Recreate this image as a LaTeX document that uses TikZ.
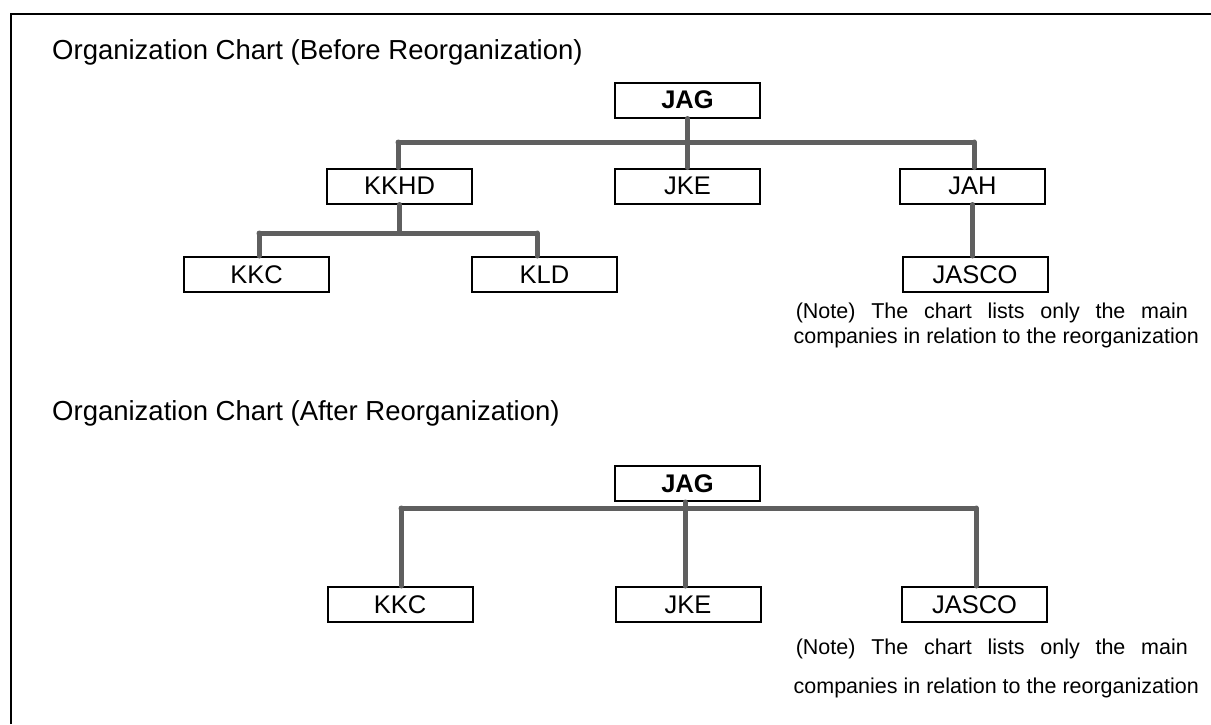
\documentclass[tikz,border=0pt]{standalone}
\usepackage{fontspec}
\setmainfont{Liberation Sans}
\begin{document}
\begin{tikzpicture}[x=1pt,y=-1pt,
  box/.style={draw=black,line width=2pt,minimum width=145pt,minimum height=35pt,inner sep=0pt,font=\fontsize{25.5}{28}\selectfont},
  conn/.style={draw=linegray,line width=5pt,line cap=round},
  title/.style={anchor=west,inner sep=0pt,font=\fontsize{27.5}{30}\selectfont},
  note/.style={anchor=east,inner sep=0pt,font=\fontsize{21.5}{24}\selectfont}]
\definecolor{linegray}{HTML}{5F5F5F}
\useasboundingbox (0,0) rectangle (1211,724);
% frame
\draw[line width=2.5pt] (11,724) -- (11,14) -- (1211,14);

% ---------- before ----------
\node[title] (t1) at (52,52) {Organization Chart (Before Reorganization)};
\node[box,font=\fontsize{25.5}{28}\selectfont\bfseries] (jag1) at (687.5,100) {JAG};
\node[box] (kkhd) at (399.5,186) {KKHD};
\node[box] (jke1) at (687.5,186) {JKE};
\node[box] (jah) at (972.5,186) {JAH};
\node[box] (kkc1) at (256.5,274.5) {KKC};
\node[box] (kld) at (544.5,274.5) {KLD};
\node[box] (jasco1) at (975,274.5) {JASCO};

\coordinate (b1l) at (398,142);
\coordinate (b1r) at (974,142);
\coordinate (b2l) at (259,233);
\coordinate (b2r) at (537,233);

\draw[conn] (b1l) -- (b1r);
\draw[conn] (jag1.south) -- (jke1.north);
\draw[conn] (b1l) -- (b1l |- kkhd.north);
\draw[conn] (b1r) -- (b1r |- jah.north);
\draw[conn] (kkhd.south) -- (kkhd.south |- b2l);
\draw[conn] (b2l) -- (b2r);
\draw[conn] (b2l) -- (b2l |- kkc1.north);
\draw[conn] (b2r) -- (b2r |- kld.north);
\draw[conn] (jah.south) -- (jasco1.north -| jah.south);

\node[note] (n1a) at (1188,313) {\makebox[392pt][s]{(Note) The chart lists only the main}};
\node[note] (n1b) at (1199,338) {companies in relation to the reorganization};

% ---------- after ----------
\node[title] (t2) at (52,413) {Organization Chart (After Reorganization)};
\node[box,font=\fontsize{25.5}{28}\selectfont\bfseries] (jag2) at (687.5,483.5) {JAG};
\node[box] (kkc2) at (400,604.5) {KKC};
\node[box] (jke2) at (688,604.5) {JKE};
\node[box] (jasco2) at (974.5,604.5) {JASCO};

\coordinate (b3l) at (401,508);
\coordinate (b3r) at (976,508);
\coordinate (jv) at (685,508);

\draw[conn] (b3l) -- (b3r);
\draw[conn] (jv |- jag2.south) -- (jv |- jke2.north);
\draw[conn] (b3l) -- (b3l |- kkc2.north);
\draw[conn] (b3r) -- (b3r |- jasco2.north);

\node[note] (n2a) at (1188,649) {\makebox[392pt][s]{(Note) The chart lists only the main}};
\node[note] (n2b) at (1199,688) {companies in relation to the reorganization};
\end{tikzpicture}
\end{document}
